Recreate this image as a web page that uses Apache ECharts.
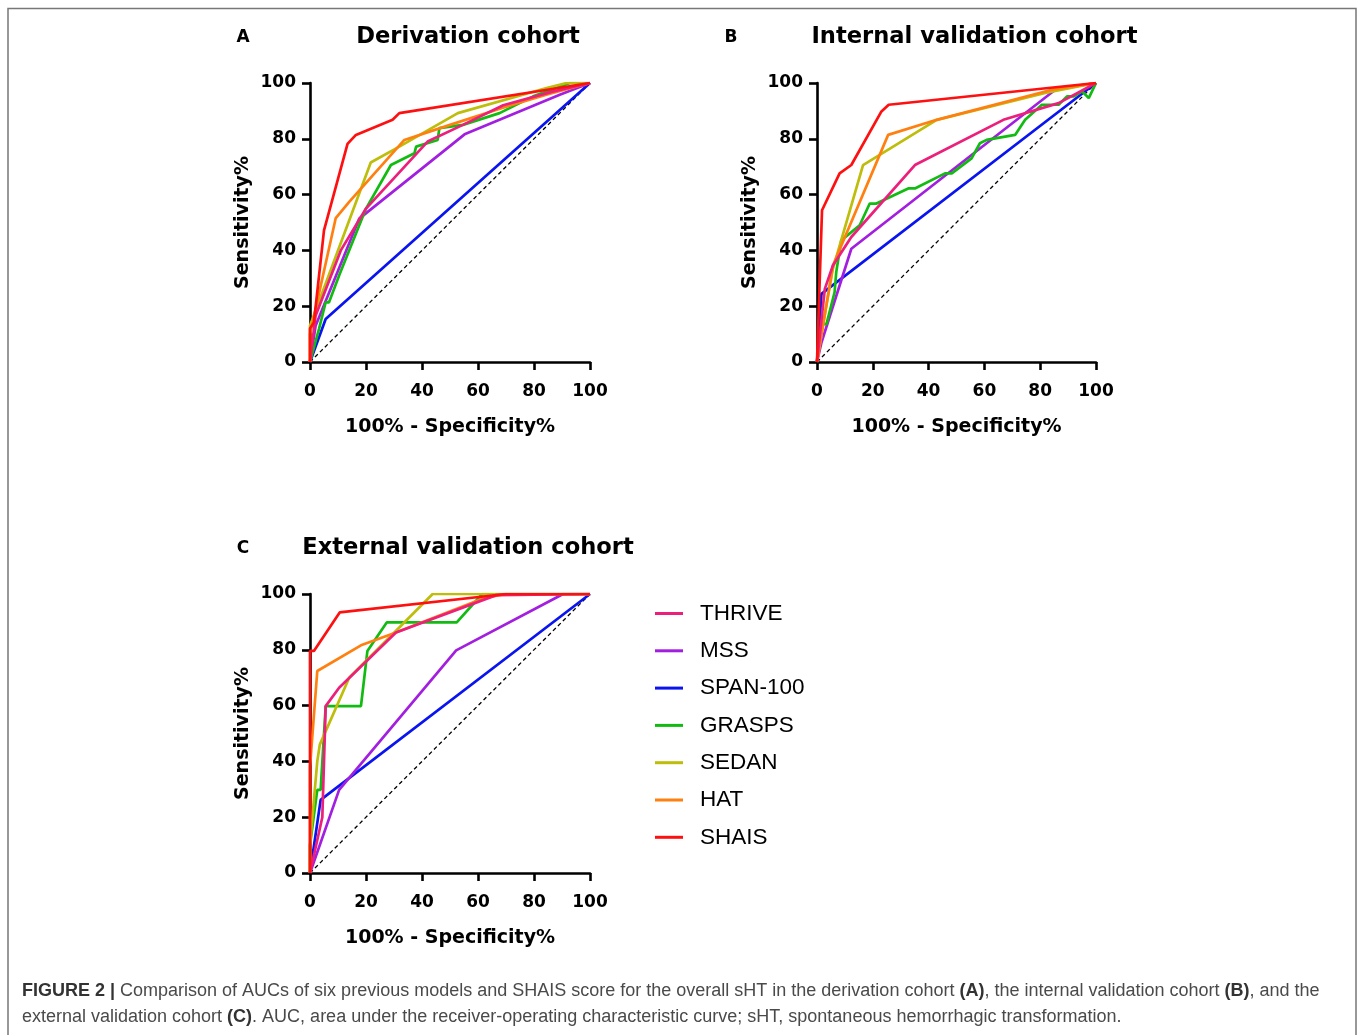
<!DOCTYPE html>
<html>
<head>
<meta charset="utf-8">
<title>Figure 2 - ROC curves</title>
<script src="https://cdn.jsdelivr.net/npm/echarts@6/dist/echarts.min.js"></script>
<style>
  html, body { margin: 0; padding: 0; background: #fff; }
  #chart { width: 1358px; height: 1035px; }
</style>
</head>
<body>
<div id="chart"></div>
<script>
// model names, legend order
const models = ['THRIVE', 'MSS', 'SPAN-100', 'GRASPS', 'SEDAN', 'HAT', 'SHAIS'];
const colors = {
  'THRIVE': '#EC1F7A',
  'MSS': '#A31FE0',
  'SPAN-100': '#0A14F0',
  'GRASPS': '#12BB12',
  'SEDAN': '#BDBD0A',
  'HAT': '#FF8010',
  'SHAIS': '#FF1010'
};
const xTicks = [0, 20, 40, 60, 80, 100];
const yTicks = [0, 20, 40, 60, 80, 100];
const refLine = [[0, 0], [100, 100]];

// ROC points [100% - specificity, sensitivity]
// A: derivation cohort
const aTHRIVE = [[0, 0], [2, 16.6], [11, 40], [20, 55], [42, 79], [54.6, 85], [69, 92], [87, 97], [100, 100]];
const aMSS = [[0, 0], [2, 13], [17.6, 51.4], [55.2, 81.6], [89.2, 95.8], [100, 100]];
const aSPAN = [[0, 0], [5.6, 15.4], [100, 100]];
const aGRASPS = [[0, 0], [3.2, 11.8], [5.6, 21.4], [6.8, 21.4], [10.4, 31], [20, 55], [28.9, 70.6], [37.3, 74.8], [37.9, 77.2], [45.6, 79.6], [46.2, 83.8], [54.6, 85], [67.7, 89.2], [79.7, 95.2], [92.8, 100], [100, 100]];
const aSEDAN = [[0, 0], [0, 13], [21.7, 71.5], [31.9, 77.2], [52.8, 89.2], [84.5, 98.2], [91.6, 100], [100, 100]];
const aHAT = [[0, 0], [0, 10], [9.2, 51.6], [14, 57.4], [33.7, 79.6], [50, 85], [70, 91.5], [85, 96], [100, 100]];
const aSHAIS = [[0, 0], [0, 12], [1.4, 14.2], [5, 47.2], [13.4, 78.2], [16.4, 81.4], [29.5, 86.8], [31.9, 89.2], [100, 100]];

// B: internal validation cohort
const bTHRIVE = [[0, 0], [2.8, 26.2], [5.7, 34.6], [12.3, 44.8], [35.1, 70.6], [66.8, 86.8], [86.6, 92.8], [100, 100]];
const bMSS = [[0, 0], [1.6, 7], [12.3, 40.6], [85.4, 97.6], [100, 100]];
const bSPAN = [[0, 0], [1.6, 24.4], [100, 100]];
const bGRASPS = [[0, 0], [1.6, 13.6], [3.4, 13.6], [6.3, 25], [6.9, 32.2], [8.7, 43.6], [15.3, 49], [18.9, 56.8], [21.3, 56.8], [32.7, 62.2], [35.1, 62.2], [45.9, 67.6], [48.3, 67.6], [55.4, 73], [58.4, 78.4], [60.8, 79.6], [71, 81.4], [74.6, 86.8], [80.6, 92.2], [86.6, 92.2], [89.6, 95.2], [92, 95.2], [95, 97], [97.4, 94.6], [100, 100]];
const bSEDAN = [[0, 0], [2.2, 13.6], [5.7, 33.4], [16.5, 70.6], [42.9, 86.8], [81.8, 96.4], [100, 100]];
const bHAT = [[0, 0], [5.7, 34.6], [25.5, 81.4], [42.9, 86.8], [84.2, 97.6], [100, 100]];
const bSHAIS = [[0, 0], [1.8, 54.4], [8.1, 67.6], [12.3, 70.6], [23.1, 89.8], [25.7, 92.2], [100, 100]];

// C: external validation cohort
const cTHRIVE = [[0, 0], [4.4, 20], [5.6, 59.8], [10.4, 66.4], [30.7, 86.2], [66.5, 99.6], [100, 100]];
const cMSS = [[0, 0], [10.4, 29.8], [52.2, 79.8], [90.4, 100], [100, 100]];
const cSPAN = [[0, 0], [3.8, 26.2], [100, 100]];
const cGRASPS = [[0, 0], [0, 10], [2.6, 29.8], [3.8, 29.8], [5.6, 59.8], [18.2, 59.8], [20.5, 79.6], [27.4, 89.8], [52.4, 89.8], [61.5, 100], [100, 100]];
const cSEDAN = [[0, 0], [0, 10], [2.6, 40], [3.5, 46], [14, 70], [43.8, 100], [100, 100]];
const cHAT = [[0, 0], [0, 38], [2.6, 72.4], [18.2, 81.6], [30.7, 86.2], [62, 98.5], [70, 100], [100, 100]];
const cSHAIS = [[0, 0], [0, 79.6], [1.4, 79.6], [10.6, 93.4], [70, 100], [100, 100]];

const panels = [
  { letter: 'A', letterX: 243, title: 'Derivation cohort', grid: { left: 310, top: 83, width: 280, height: 279 },
    data: { 'THRIVE': aTHRIVE, 'MSS': aMSS, 'SPAN-100': aSPAN, 'GRASPS': aGRASPS, 'SEDAN': aSEDAN, 'HAT': aHAT, 'SHAIS': aSHAIS } },
  { letter: 'B', letterX: 731, title: 'Internal validation cohort', grid: { left: 817, top: 83, width: 279, height: 279 },
    data: { 'THRIVE': bTHRIVE, 'MSS': bMSS, 'SPAN-100': bSPAN, 'GRASPS': bGRASPS, 'SEDAN': bSEDAN, 'HAT': bHAT, 'SHAIS': bSHAIS } },
  { letter: 'C', letterX: 243, title: 'External validation cohort', grid: { left: 310, top: 594, width: 280, height: 279 },
    data: { 'THRIVE': cTHRIVE, 'MSS': cMSS, 'SPAN-100': cSPAN, 'GRASPS': cGRASPS, 'SEDAN': cSEDAN, 'HAT': cHAT, 'SHAIS': cSHAIS } }
];

// draw order (later = on top)
const drawOrder = ['SPAN-100', 'MSS', 'GRASPS', 'SEDAN', 'HAT', 'THRIVE', 'SHAIS'];

const boldFont = 'DejaVu Sans';

const axisCommon = {
  type: 'value',
  min: 0,
  max: 100,
  interval: 20,
  splitLine: { show: false },
  axisLine: { show: true, lineStyle: { color: '#000', width: 2.6 } },
  axisTick: { show: true, length: 8, lineStyle: { color: '#000', width: 2.6 } },
  nameLocation: 'middle',
  nameTextStyle: { fontFamily: boldFont, fontWeight: 'bold', fontSize: 19, color: '#000' }
};

const grids = [], xAxes = [], yAxes = [], series = [], graphics = [];

panels.forEach((p, i) => {
  grids.push(p.grid);
  xAxes.push(Object.assign({}, axisCommon, {
    gridIndex: i,
    name: '100% - Specificity%',
    nameGap: 56,
    axisLabel: { margin: 21, fontFamily: boldFont, fontWeight: 'bold', fontSize: 17, color: '#000',
      formatter: v => (xTicks.includes(v) ? String(v) : '') }
  }));
  yAxes.push(Object.assign({}, axisCommon, {
    gridIndex: i,
    name: 'Sensitivity%',
    nameGap: 57,
    axisLabel: { margin: 14, fontFamily: boldFont, fontWeight: 'bold', fontSize: 17, color: '#000',
      formatter: v => (yTicks.includes(v) ? String(v) : '') }
  }));

  series.push({
    type: 'line',
    xAxisIndex: i,
    yAxisIndex: i,
    data: refLine,
    symbol: 'none',
    silent: true,
    lineStyle: { color: '#000', width: 1.3, type: [4, 3] },
    z: 1
  });

  drawOrder.forEach(name => {
    series.push({
      name: name,
      type: 'line',
      xAxisIndex: i,
      yAxisIndex: i,
      data: p.data[name],
      symbol: 'none',
      lineStyle: { color: colors[name], width: 2.7 },
      itemStyle: { color: colors[name] },
      z: 2
    });
  });

  const g = p.grid;
  graphics.push({
    type: 'text',
    x: p.letterX, y: g.top - 45,
    style: { text: p.letter, fontFamily: boldFont, fontWeight: 'bold', fontSize: 17, fill: '#000',
      textAlign: 'center', textVerticalAlign: 'middle' }
  });
  graphics.push({
    type: 'text',
    x: g.left + g.width / 2 + 18, y: g.top - 46,
    style: { text: p.title, fontFamily: boldFont, fontWeight: 'bold', fontSize: 22.6, fill: '#000',
      textAlign: 'center', textVerticalAlign: 'middle' }
  });
});

// figure frame
graphics.push({
  type: 'polyline',
  shape: { points: [[8, 1040], [8, 8.5], [1356, 8.5], [1356, 1040]] },
  style: { stroke: '#777', lineWidth: 1.5, fill: null }
});

// caption
const captionRich = { b: { fontFamily: 'Liberation Sans', fontWeight: 'bold', fontSize: 18, fill: '#333' } };
graphics.push({
  type: 'text',
  x: 22, y: 991,
  style: {
    text: '{b|FIGURE 2 |} Comparison of AUCs of six previous models and SHAIS score for the overall sHT in the derivation cohort {b|(A)}, the internal validation cohort {b|(B)}, and the',
    fontFamily: 'Liberation Sans', fontSize: 18, fill: '#4a4a4a', textVerticalAlign: 'middle',
    rich: captionRich
  }
});
graphics.push({
  type: 'text',
  x: 22, y: 1017,
  style: {
    text: 'external validation cohort {b|(C)}. AUC, area under the receiver-operating characteristic curve; sHT, spontaneous hemorrhagic transformation.',
    fontFamily: 'Liberation Sans', fontSize: 18, fill: '#4a4a4a', textVerticalAlign: 'middle',
    rich: captionRich
  }
});

const chart = echarts.init(document.getElementById('chart'), null, { renderer: 'canvas' });

chart.setOption({
  animation: false,
  backgroundColor: '#fff',
  legend: {
    data: models,
    orient: 'vertical',
    left: 655,
    top: 602,
    padding: 0,
    icon: 'rect',
    itemWidth: 28,
    itemHeight: 3,
    itemGap: 14.3,
    selectedMode: false,
    textStyle: { fontFamily: 'Liberation Sans', fontSize: 22.5, color: '#000', lineHeight: 22, padding: [0, 0, 0, 12] }
  },
  grid: grids,
  xAxis: xAxes,
  yAxis: yAxes,
  series: series,
  graphic: graphics
});

window.addEventListener('resize', () => chart.resize());
</script>
</body>
</html>
